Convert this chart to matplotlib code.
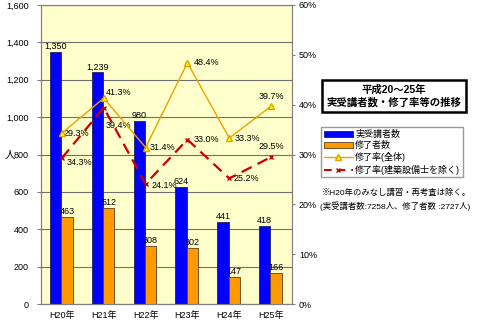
import matplotlib.pyplot as plt
from matplotlib.patches import Patch
from matplotlib.lines import Line2D

plt.rcParams['font.family'] = ['Liberation Sans', 'Noto Sans CJK JP']

years = ['H20年', 'H21年', 'H22年', 'H23年', 'H24年', 'H25年']
attendees = [1350, 1239, 980, 624, 441, 418]
completers = [463, 512, 308, 302, 147, 166]
rate_all = [34.3, 41.3, 31.4, 48.4, 33.3, 39.7]
rate_excl = [29.3, 39.4, 24.1, 33.0, 25.2, 29.5]
# label texts as printed on the original chart
rate_all_labels = ['29.3%', '41.3%', '31.4%', '48.4%', '33.3%', '39.7%']
rate_excl_labels = ['34.3%', '39.4%', '24.1%', '33.0%', '25.2%', '29.5%']

fig = plt.figure(figsize=(4.8, 3.22), dpi=100)
ax = fig.add_axes([41 / 480, 18 / 322, 251 / 480, 299 / 322])
ax.set_facecolor('#FFFFCC')

x = list(range(len(years)))
w = 0.27
xb = [i - 0.15 for i in x]
xo = [i + 0.12 for i in x]
ax.bar(xb, attendees, w, color='#0000FF', edgecolor='#202060', lw=0.6, zorder=3)
ax.bar(xo, completers, w, color='#FF9900', edgecolor='#604020', lw=0.6, zorder=3)
for i in x:
    ax.annotate(f'{attendees[i]:,}', (xb[i], attendees[i]), xytext=(0, 1),
                textcoords='offset pixels', ha='center', va='bottom', fontsize=6.5)
    ax.annotate(f'{completers[i]:,}', (xo[i], completers[i]), xytext=(0, 1),
                textcoords='offset pixels', ha='center', va='bottom', fontsize=6.5)

ax.set_ylim(0, 1600)
ax.set_xlim(-0.5, 5.5)
ax.set_yticks(range(0, 1601, 200))
ax.set_yticklabels([f'{v:,}' for v in range(0, 1601, 200)], fontsize=6.5)
ax.set_xticks(x)
ax.set_xticklabels(years, fontsize=6.5)
ax.tick_params(axis='x', length=0, pad=5)
ax.tick_params(axis='y', length=3, color='#808080', pad=6)
ax.grid(axis='y', color='#707070', lw=0.8, zorder=0)
for s in ax.spines.values():
    s.set_color('#808080')
ax.text(-0.125, 0.5, '人', transform=ax.transAxes, fontsize=7.5, ha='center', va='center')

ax2 = ax.twinx()
ax2.plot(x, rate_all, color='#EEA000', lw=1.0, marker='^', ms=4.5,
         mfc='#FFFF00', mec='#E0A000', zorder=4)
ax2.plot(x, rate_excl, color='#CC0000', lw=1.6, ls=(0, (5, 3)), marker='x', ms=3.5,
         mec='#CC0000', zorder=4)
ax2.set_ylim(0, 60)
ax2.set_yticks(range(0, 61, 10))
ax2.set_yticklabels([f'{v}%' for v in range(0, 61, 10)], fontsize=6.5)
ax2.tick_params(axis='y', length=2, color='#808080', pad=3)
for s in ax2.spines.values():
    s.set_color('#808080')

all_off = [(2, 0, 'left'), (2, 6, 'left'), (4, 0, 'left'), (6, 0, 'left'), (5, 0, 'left'), (0, 10, 'center')]
excl_off = [(5, -5, 'left'), (2, -18, 'left'), (6, -2, 'left'), (6, 0, 'left'), (4, 0, 'left'), (0, 10, 'center')]
for i in x:
    dx, dy, ha = all_off[i]
    ax2.annotate(rate_all_labels[i], (x[i], rate_all[i]), xytext=(dx, dy),
                 textcoords='offset pixels', ha=ha, va='center', fontsize=6.5)
    dx, dy, ha = excl_off[i]
    ax2.annotate(rate_excl_labels[i], (x[i], rate_excl[i]), xytext=(dx, dy),
                 textcoords='offset pixels', ha=ha, va='center', fontsize=6.5)

fig.text(394 / 480, 1 - 96 / 322, '平成20～25年\n実受講者数・修了率等の推移', ha='center', va='center',
         fontsize=7.5, fontweight='bold', linespacing=1.3,
         bbox=dict(boxstyle='square,pad=0.45', fc='white', ec='black', lw=1.8))

handles = [Patch(fc='#0000FF', ec='#202060', lw=0.6),
           Patch(fc='#FF9900', ec='#604020', lw=0.6),
           Line2D([], [], color='#EEA000', lw=1.0, marker='^', ms=4, mfc='#FFFF00', mec='#E0A000'),
           Line2D([], [], color='#CC0000', lw=1.4, ls=(0, (4, 3)), marker='x', ms=3.5)]
labels = ['実受講者数', '修了者数', '修了率(全体)', '修了率(建築設備士を除く)']
fig.legend(handles, labels, loc='upper left', bbox_to_anchor=(321 / 480, 1 - 127 / 322),
           fontsize=6.5, frameon=True, fancybox=False, edgecolor='#808080',
           borderpad=0.3, labelspacing=0.25, handlelength=3.2, handleheight=0.6,
           handletextpad=0.3, borderaxespad=0)

fig.text(322 / 480, 1 - 193 / 322, '※H20年のみなし講習・再考査は除く。', fontsize=6, va='center')
fig.text(320 / 480, 1 - 206 / 322, '(実受講者数:7258人、修了者数 :2727人)', fontsize=6, va='center')

fig.savefig('out.png', dpi=100)
